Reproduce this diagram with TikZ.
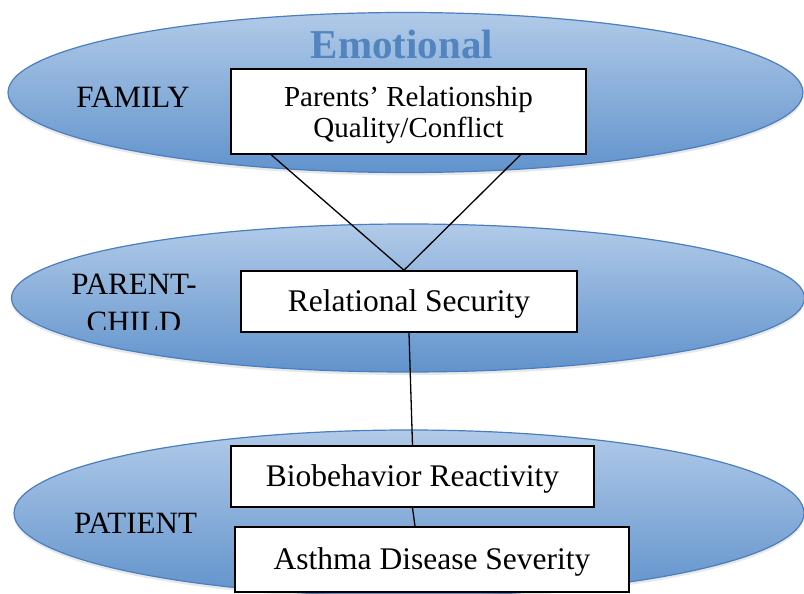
\documentclass[tikz,border=0pt]{standalone}
\usepackage{fontspec}
\setmainfont{Liberation Serif}
\usetikzlibrary{calc}
\definecolor{ellTop}{RGB}{177,202,232}
\definecolor{ellBot}{RGB}{97,147,204}
\definecolor{ellLine}{RGB}{74,126,192}
\definecolor{emoBlue}{RGB}{82,132,192}
\begin{document}
\begin{tikzpicture}[x=1pt,y=-1pt,
  layer/.style={draw=ellLine, line width=1.2pt, top color=ellTop, bottom color=ellBot},
  layershadow/.style={fill=black, opacity=0.09},
  box/.style={draw=black, line width=1.6pt, fill=white, inner sep=0pt,
    font=\fontsize{31.5}{36}\selectfont, text height=20.5pt, text depth=0pt},
  lvl/.style={font=\fontsize{31}{36}\selectfont, anchor=base, inner sep=0pt},
  link/.style={draw=black, line width=1.3pt}]
\useasboundingbox (0,0) rectangle (804,594);
\clip (0,0) rectangle (804,594);
% layers
\fill[layershadow] (405.5,95.5) ellipse [x radius=397.5, y radius=80];
\path[layer] (405.5,92.5) ellipse [x radius=397.5, y radius=80];
\fill[layershadow] (408,301) ellipse [x radius=396.5, y radius=74];
\path[layer] (408,298) ellipse [x radius=396.5, y radius=74];
\fill[layershadow] (409,516) ellipse [x radius=395, y radius=83];
\path[layer] (409,513) ellipse [x radius=395, y radius=83];
% titles
\node[font=\bfseries\fontsize{41}{48}\selectfont, text=emoBlue, anchor=base, inner sep=0pt] (emo) at (402,59) {Emotional};
\node[lvl] (fam) at (133,107) {FAMILY};
\node[lvl] (pc1) at (134,294) {PARENT-};
\begin{scope}
  \clip (0,0) rectangle (804,329.5);
  \node[lvl] (pc2) at (134,332) {CHILD};
\end{scope}
\node[lvl] (pat) at (135.5,533) {PATIENT};
% boxes
\node[box, minimum width=355pt, minimum height=85pt, align=center,
  font=\fontsize{29}{32}\selectfont, text height=53pt, text depth=0pt] (b1) at (408.5,111.5)
  {Parents’ Relationship\\Quality/Conflict};
\node[box, minimum width=336pt, minimum height=61pt] (b2) at (409,301.5) {Relational Security};
\node[box, minimum width=363pt, minimum height=61pt] (b3) at (412.5,476.5) {Biobehavior Reactivity};
\node[box, minimum width=394pt, minimum height=65pt] (b4) at (432,559.5) {Asthma Disease Severity};
% connectors
\coordinate (v1) at ($(b1.south west)!0.115!(b1.south east)$);
\coordinate (v2) at ($(b1.south west)!0.814!(b1.south east)$);
\coordinate (apex) at ($(b2.north west)!0.485!(b2.north east)$);
\coordinate (b4top) at ($(b4.north west)!0.457!(b4.north east)$);
\draw[link] (v1) -- (apex) -- (v2);
\draw[link] (b2.south) -- (b3.north);
\draw[link] (b3.south) -- (b4top);
\end{tikzpicture}
\end{document}
